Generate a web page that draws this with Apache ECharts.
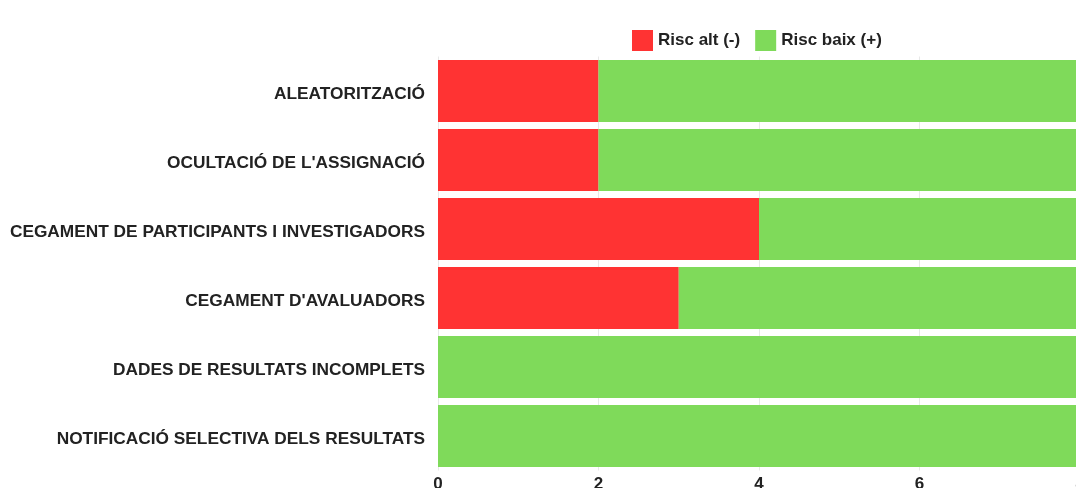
<!DOCTYPE html>
<html><head><meta charset="utf-8">
<script src="https://cdn.jsdelivr.net/npm/echarts@6/dist/echarts.min.js"></script>
<style>html,body{margin:0;padding:0;background:#fff}#c{width:1076px;height:488px}</style>
</head><body><div id="c"></div>
<script>
var categories = ["ALEATORITZACIÓ","OCULTACIÓ DE L'ASSIGNACIÓ","CEGAMENT DE PARTICIPANTS I INVESTIGADORS","CEGAMENT D'AVALUADORS","DADES DE RESULTATS INCOMPLETS","NOTIFICACIÓ SELECTIVA DELS RESULTATS"];
var riscAlt = [2,2,4,3,0,0];
var riscBaix = [6,6,4,5,8,8];
var seriesNames = ["Risc alt (-)","Risc baix (+)"];
var FONT = '"Liberation Sans", Arial, sans-serif';
var chart = echarts.init(document.getElementById('c'), null, {renderer:'canvas'});
chart.setOption({
  animation:false,
  legend:{
    top:25, left:627, itemWidth:21, itemHeight:21, itemGap:15,
    icon:'rect',
    textStyle:{fontFamily:FONT, fontWeight:'bold', fontSize:17, color:'#222'},
    data:seriesNames
  },
  grid:{left:438, top:56.5, width:642, height:414, containLabel:false, outerBoundsMode:'none'},
  xAxis:{
    type:'value', min:0, max:8, interval:2,
    axisLine:{show:false}, axisTick:{show:false},
    splitLine:{show:true, lineStyle:{color:'#e8e8e8', width:1}},
    axisLabel:{fontFamily:FONT, fontWeight:'bold', fontSize:17, color:'#222', margin:5}
  },
  yAxis:{
    type:'category', inverse:true, data:categories,
    axisLine:{show:false}, axisTick:{show:false},
    axisLabel:{
      margin:13,
      formatter:function(v){ return '{a|' + v + '}'; },
      rich:{a:{fontFamily:FONT, fontWeight:'bold', fontSize:17.3, color:'#222', padding:[7,0,0,0]}}
    }
  },
  series:[
    {name:seriesNames[0], type:'bar', stack:'r', data:riscAlt, barCategoryGap:'10%', itemStyle:{color:'#ff3333'}},
    {name:seriesNames[1], type:'bar', stack:'r', data:riscBaix, barCategoryGap:'10%', itemStyle:{color:'#7fda5a'}}
  ]
});
</script></body></html>
